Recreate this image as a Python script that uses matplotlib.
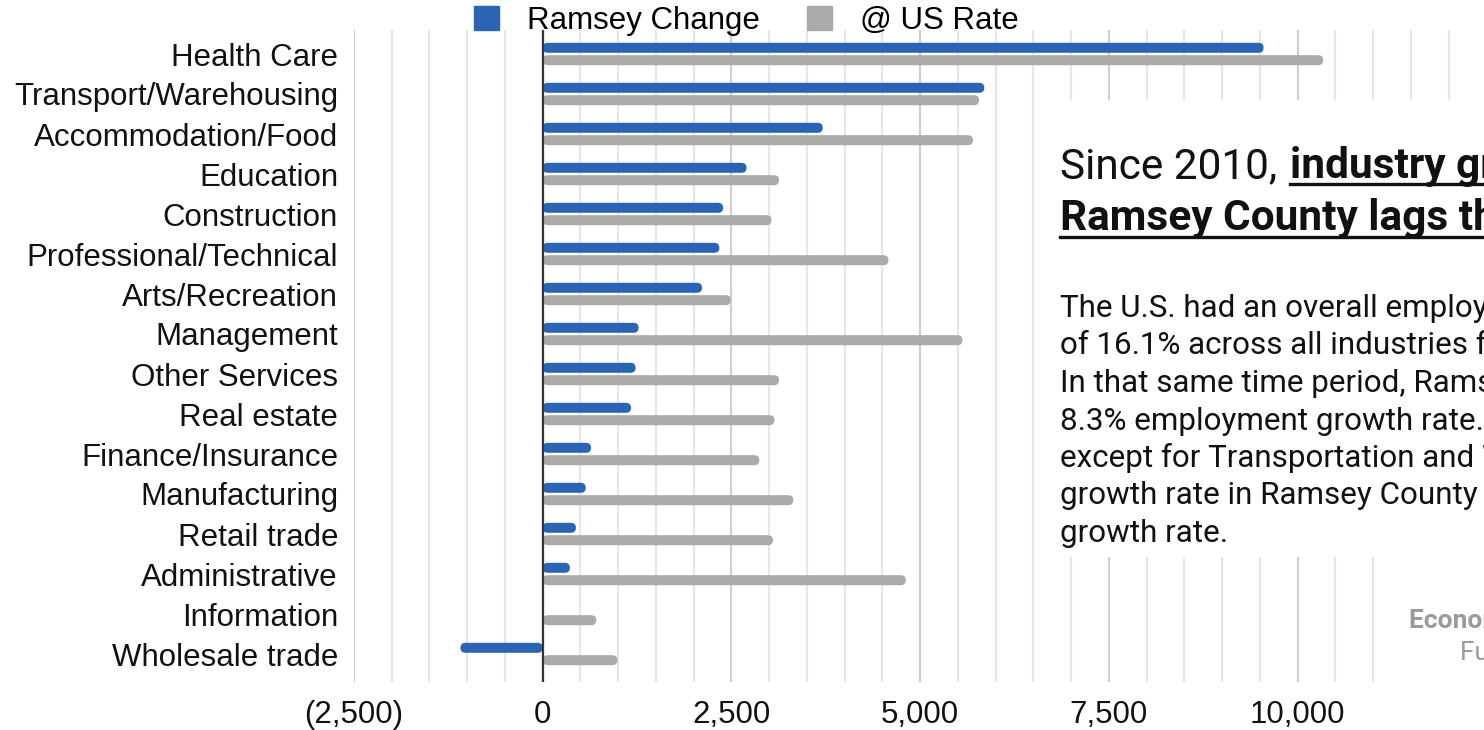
import numpy as np
import matplotlib
matplotlib.use("Agg")
import matplotlib.pyplot as plt
from matplotlib.patches import FancyBboxPatch, Rectangle, Patch
from matplotlib.lines import Line2D
from matplotlib.ticker import MultipleLocator, FuncFormatter

plt.rcParams['font.family'] = ['Liberation Sans', 'DejaVu Sans']

industries = ["Health Care", "Transport/Warehousing", "Accommodation/Food", "Education",
              "Construction", "Professional/Technical", "Arts/Recreation", "Management",
              "Other Services", "Real estate", "Finance/Insurance", "Manufacturing",
              "Retail trade", "Administrative", "Information", "Wholesale trade"]
ramsey_change = [9550, 5850, 3710, 2700, 2390, 2340, 2110, 1270,
                 1230, 1170, 640, 570, 440, 360, 15, -1090]
us_rate = [10340, 5780, 5700, 3130, 3030, 4580, 2490, 5560,
           3130, 3070, 2870, 3320, 3050, 4810, 710, 990]

title_plain = "Since 2010, "
title_bold_1 = "industry growth in"
title_bold_2 = "Ramsey County lags the U.S."
body_lines = ["The U.S. had an overall employment growth rate",
              "of 16.1% across all industries from 2010 to 2019.",
              "In that same time period, Ramsey County had an",
              "8.3% employment growth rate. In all industries",
              "except for Transportation and Warehousing, the",
              "growth rate in Ramsey County was below the U.S.",
              "growth rate."]
source_1 = "Economic Development"
source_2 = "Full report"

BLUE = "#2c64b4"
GRAY = "#aaaaaa"
LABEL_SIZE = 22.5

W, H = 1484, 730
fig = plt.figure(figsize=(W / 100, H / 100), dpi=100)


def fx(px):
    return px / W


def fy(py):
    return 1 - py / H


# plot area in pixels
ax_l, ax_r, ax_t, ax_b = 354, 1484, 30, 682
ax = fig.add_axes([fx(ax_l), fy(ax_b), fx(ax_r) - fx(ax_l), fy(ax_t) - fy(ax_b)])

xmin, xmax = -2500, 12470
ytop, ybot = -0.6, 15.7
ax.set_xlim(xmin, xmax)
ax.set_ylim(ybot, ytop)

# data units per pixel, for round bar ends
x_upp = (xmax - xmin) / (ax_r - ax_l)
y_upp = (ybot - ytop) / (ax_b - ax_t)

rows = np.arange(len(industries))
bar_h = 0.25
off = 0.155


def rounded_barh(ys, widths, color):
    radius = 5 * x_upp
    aspect = y_upp / x_upp
    for yi, w in zip(ys, widths):
        x0, ww = min(0, w), abs(w)
        r = min(radius, ww / 2)
        ax.add_patch(FancyBboxPatch((x0, yi - bar_h / 2), ww, bar_h,
                                    boxstyle=f"round,pad=0,rounding_size={r}",
                                    mutation_aspect=aspect, fc=color, ec="none", zorder=2))


rounded_barh(rows - off, ramsey_change, BLUE)
rounded_barh(rows + off, us_rate, GRAY)
ax.axvline(0, color="#333333", lw=1.6, zorder=3)

ax.xaxis.set_major_locator(MultipleLocator(2500))
ax.xaxis.set_minor_locator(MultipleLocator(500))
ax.xaxis.set_major_formatter(FuncFormatter(
    lambda v, p: f"({abs(v):,.0f})" if v < 0 else f"{v:,.0f}"))
ax.grid(which="minor", axis="x", color="#e6e6e6", lw=1.6)
ax.grid(which="major", axis="x", color="#cfcfcf", lw=1.6)
ax.set_axisbelow(True)
ax.set_yticks(rows, industries)
ax.tick_params(axis="both", which="both", length=0, labelsize=LABEL_SIZE, colors="#111111")
ax.tick_params(axis="y", pad=11.5)
ax.tick_params(axis="x", pad=13)
for s in ax.spines.values():
    s.set_visible(False)

fig.legend(handles=[Patch(color=BLUE, label="Ramsey Change"),
                    Patch(color=GRAY, label="@ US Rate")],
           loc="center left", bbox_to_anchor=(fx(474), fy(21)), ncol=2, frameon=False,
           fontsize=LABEL_SIZE, handlelength=0.8, handleheight=0.8, handletextpad=0.9,
           columnspacing=1.5, borderpad=0, borderaxespad=0)

# white panels carrying the commentary
fig.add_artist(Rectangle((fx(1045), fy(557)), 1 - fx(1045), fy(100) - fy(557),
                         transform=fig.transFigure, fc="white", ec="none", zorder=5))
fig.add_artist(Rectangle((fx(1388), 0), 1 - fx(1388), fy(557),
                         transform=fig.transFigure, fc="white", ec="none", zorder=5))

tx = 1060
t1 = fig.text(fx(tx), fy(178), title_plain.rstrip(), family="Roboto", fontsize=30.5,
              color="#111111", va="baseline", zorder=6)
renderer = fig.canvas.get_renderer()
bb = t1.get_window_extent(renderer)
bold_x = bb.x1 + 13
fig.text(bold_x / W, fy(178), title_bold_1, family="Roboto", fontsize=30.5,
         weight="bold", color="#111111", va="baseline", zorder=6)
fig.text(fx(tx), fy(230), title_bold_2, family="Roboto", fontsize=30.5,
         weight="bold", color="#111111", va="baseline", zorder=6)
fig.add_artist(Line2D([bold_x / W, 1.0], [fy(184), fy(184)], transform=fig.transFigure,
                      color="#111111", lw=2.4, zorder=6))
fig.add_artist(Line2D([fx(tx), 1.0], [fy(237), fy(237)], transform=fig.transFigure,
                      color="#111111", lw=2.4, zorder=6))

for i, line in enumerate(body_lines):
    fig.text(fx(tx), fy(317 + 37.5 * i), line, family="Roboto", fontsize=22.6,
             color="#111111", va="baseline", zorder=6)

fig.text(fx(1409), fy(628), source_1, family="Roboto", fontsize=19, weight="bold",
         color="#9a9a9a", va="baseline", zorder=6)
fig.text(fx(1460), fy(660), source_2, family="Roboto", fontsize=19,
         color="#9a9a9a", va="baseline", zorder=6)

fig.savefig("out.png", dpi=100)
